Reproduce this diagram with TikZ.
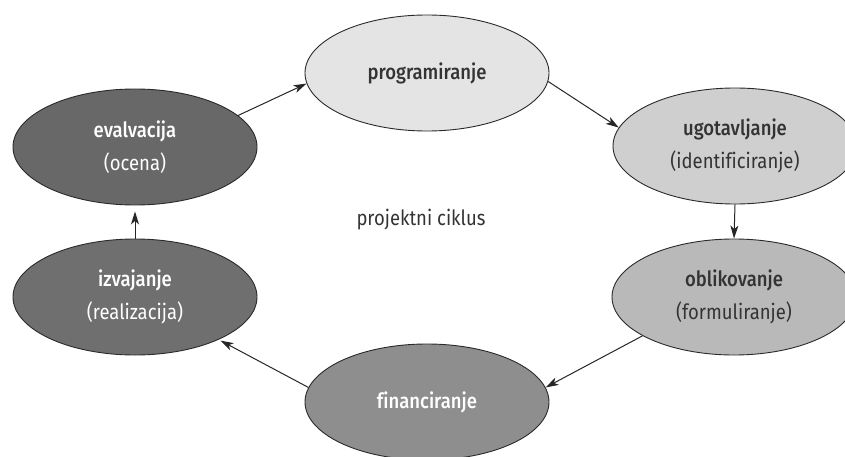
\documentclass[tikz,border=0pt]{standalone}
\usepackage{fontspec}
\setmainfont{Fira Sans}[BoldFont={Fira Sans Medium},Ligatures=NoCommon,FakeStretch=0.88]
\usetikzlibrary{shapes.geometric,arrows.meta}
\definecolor{cA}{HTML}{E4E4E4}
\definecolor{cB}{HTML}{CFCFCF}
\definecolor{cC}{HTML}{B9B9B9}
\definecolor{cD}{HTML}{8E8E8E}
\definecolor{cE}{HTML}{6F6F6F}
\definecolor{cF}{HTML}{686868}
\definecolor{txt}{HTML}{333333}
\definecolor{rim}{HTML}{2A2A2A}
\begin{document}
\begin{tikzpicture}[x=1pt,y=1pt,
  ell/.style={ellipse,draw=rim,line width=0.9pt,minimum width=244pt,minimum height=116pt,inner sep=0pt,align=center,font=\fontsize{21}{33}\selectfont},
  dk/.style={ell,text=white},
  lt/.style={ell,text=txt},
  con/.style={draw=black!85,line width=1pt,-{Stealth[length=13pt,width=8pt,inset=3.5pt]}}]
\useasboundingbox (0,0) rectangle (845,456);
\node[lt,fill=cA] (prog) at (427,383) {\textbf{programiranje}};
\node[lt,fill=cB] (ugot) at (735,310) {\textbf{ugotavljanje}\\(identificiranje)};
\node[lt,fill=cC] (obli) at (734,159) {\textbf{oblikovanje}\\(formuliranje)};
\node[dk,fill=cD] (fin) at (427,54) {\textbf{financiranje}};
\node[dk,fill=cE] (izv) at (135,159) {\textbf{izvajanje}\\(realizacija)};
\node[dk,fill=cF] (eval) at (135,309) {\textbf{evalvacija}\\(ocena)};
\node[text=txt,font=\fontsize{21}{24}\selectfont] (title) at (421,236) {projektni ciklus};
\draw[con] (eval.17.8) -- (prog.185.6);
\draw[con] (prog.-4.7) -- (ugot.171.9);
\draw[con] (ugot.south) -- (obli.north);
\draw[con] (obli.203) -- (fin.7);
\draw[con,shorten >=2pt] (fin.173.3) -- (izv.-27.3);
\draw[con,shorten >=6pt] (izv.north) -- (eval.south);
\end{tikzpicture}
\end{document}
